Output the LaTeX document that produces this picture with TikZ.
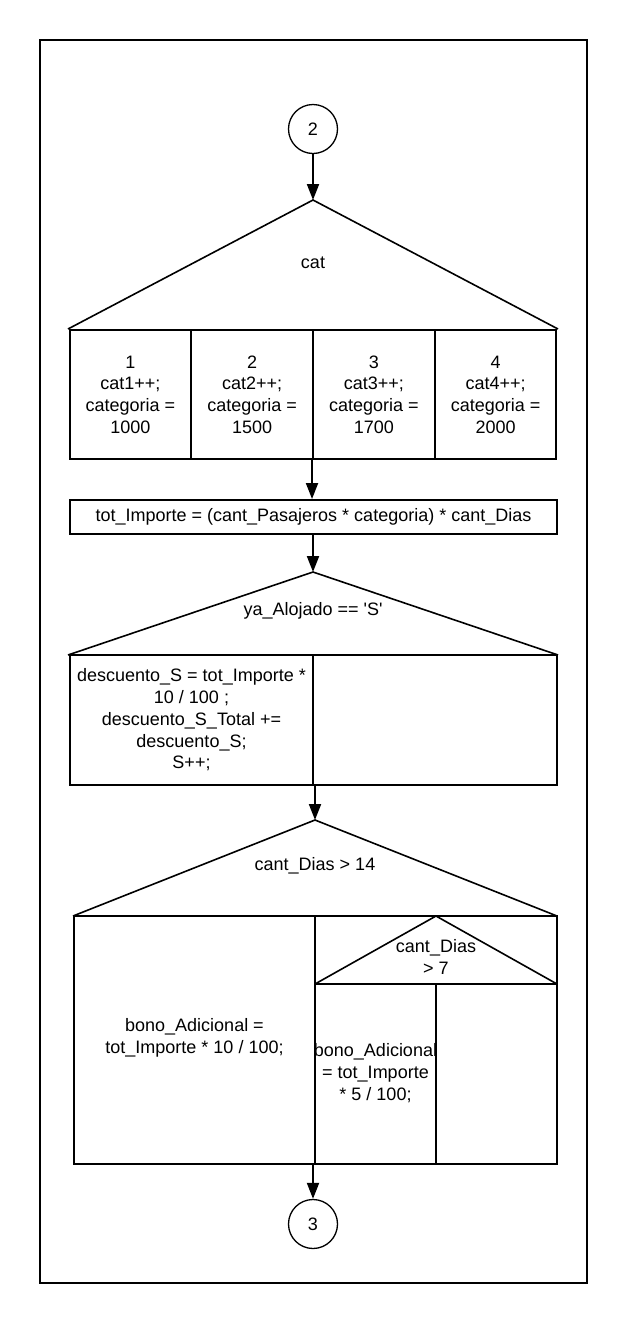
\documentclass[tikz,border=0pt]{standalone}
\usepackage{fontspec}
\newfontfamily\lsans{Liberation Sans}
\usetikzlibrary{arrows.meta}
\begin{document}
\begin{tikzpicture}[x=1pt,y=-1pt,
  txt/.style={font=\lsans\fontsize{18}{21.7}\selectfont, align=center, inner sep=0pt},
  cell/.style={txt, draw, line width=2pt},
  conn/.style={txt, draw, circle, line width=1.3pt, minimum size=49pt},
  tri/.style={line width=1.6pt, line join=miter},
  arr/.style={line width=2pt, -{Triangle[length=16pt,width=12pt]}}]
\useasboundingbox (0,0) rectangle (627,1323);
% page frame
\draw[line width=2pt] (40,40) rectangle (587,1283);

% entry connector
\node[conn] (c2) at (313,129) {2};
\coordinate (ap1) at (313,200);
\draw[arr] (c2) -- (ap1);

% switch on cat
\draw[tri] (68,329) -- (ap1) -- (558,329);
\node[txt] (qcat) at (313,263) {cat};
\node[cell, minimum width=121.75pt, minimum height=129pt] (k1) at (130.4,394.5) {1\\cat1++;\\categoria =\\1000};
\node[cell, minimum width=121.75pt, minimum height=129pt] (k2) at (252.1,394.5) {2\\cat2++;\\categoria =\\1500};
\node[cell, minimum width=121.75pt, minimum height=129pt] (k3) at (373.9,394.5) {3\\cat3++;\\categoria =\\1700};
\node[cell, minimum width=121.75pt, minimum height=129pt] (k4) at (495.6,394.5) {4\\cat4++;\\categoria =\\2000};

% total amount
\node[cell, minimum width=487pt, minimum height=34pt] (asg) at (313.5,517) {tot\_Importe = (cant\_Pasajeros * categoria) * cant\_Dias};
\draw[arr] (k3.south west) -- (k3.south west |- asg.north);

% ya_Alojado decision
\coordinate (ap2) at (313,572);
\draw[arr] (ap2 |- asg.south) -- (ap2);
\draw[tri] (68,655) -- (ap2) -- (558,655);
\node[txt] (qalo) at (313,611) {ya\_Alojado == \char"27 S\char"27};
\node[cell, minimum width=243pt, minimum height=130pt] (y1) at (191.5,720) {descuento\_S = tot\_Importe *\\10 / 100 ;\\descuento\_S\_Total +=\\descuento\_S;\\S++;};
\node[cell, minimum width=244pt, minimum height=130pt] (y2) at (435,720) {};

% cant_Dias > 14 decision
\coordinate (ap3) at (315,820);
\draw[arr] (ap3 |- y1.south) -- (ap3);
\draw[tri] (73,916) -- (ap3) -- (557,916);
\node[txt] (qd14) at (315,866) {cant\_Dias > 14};
\node[cell, minimum width=241pt, minimum height=248pt] (d1) at (194.5,1040) {};
\node[txt] (d1t) at (194.5,1038) {bono\_Adicional =\\tot\_Importe * 10 / 100;};
\node[cell, minimum width=242pt, minimum height=248pt] (d2) at (436,1040) {};

% nested cant_Dias > 7 decision
\coordinate (ap4) at (436,916);
\draw[tri] (315,984) -- (ap4) -- (557,984);
\draw[tri] (315,984) -- (557,984);
\node[txt] (qd7) at (436,957) {cant\_Dias\\> 7};
\node[cell, minimum width=121pt, minimum height=180pt] (e1) at (375.5,1074) {};
\node[cell, minimum width=121pt, minimum height=180pt] (e2) at (496.5,1074) {};
\node[txt] (e1t) at (375.5,1073) {bono\_Adicional\\= tot\_Importe\\* 5 / 100;};

% exit connector
\node[conn] (c3) at (313,1224) {3};
\draw[arr] (c3 |- d1.south) -- (c3);
\end{tikzpicture}
\end{document}
